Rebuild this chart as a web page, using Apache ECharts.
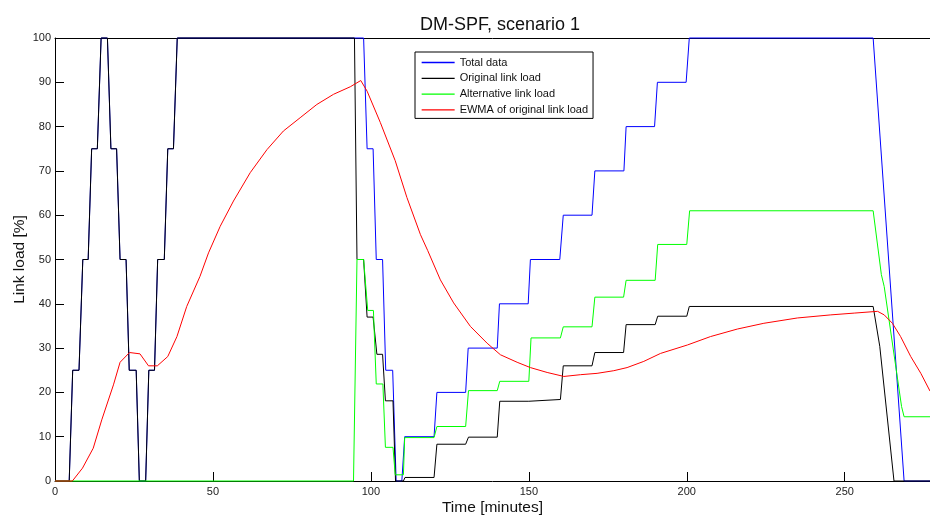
<!DOCTYPE html>
<html>
<head>
<meta charset="utf-8">
<script src="https://cdn.jsdelivr.net/npm/echarts@6/dist/echarts.min.js"></script>
<style>
  html, body { margin: 0; padding: 0; background: #fff; }
  #main { width: 930px; height: 516px; }
</style>
</head>
<body>
<div id="main"></div>
<script>
// time [minutes] / value [%] breakpoints
const totalT = [0,4.5,5.6,7.6,8.8,10.5,11.6,13.4,14.6,16.6,17.7,19.5,20.6,22.5,23.5,25.7,26.7,28.7,29.7,31.5,32.5,34.6,35.7,37.5,38.7,
  97.7,98.8,100.7,101.7,103.7,104.7,106.9,108,109.8,110.7,120,120.9,130,130.8,140,140.7,149.8,150.5,159.8,160.9,
  170,170.9,180.1,180.8,189.8,190.7,199.8,200.8,259,268.8,277];
const totalV = [0,0,25,25,50,50,75,75,100,100,75,75,50,50,25,25,0,0,25,25,50,50,75,75,100,
  100,75,75,50,50,25,25,0,0,10,10,20,20,30,30,40,40,50,50,60,
  60,70,70,80,80,90,90,100,100,0,0];

const origT = [0,4.5,5.6,7.6,8.8,10.5,11.6,13.4,14.6,16.6,17.7,19.5,20.6,22.5,23.5,25.7,26.7,28.7,29.7,31.5,32.5,34.6,35.7,37.5,38.7,
  94.8,95.6,97.7,98.8,100.7,101.9,103.7,104.6,107,107.8,110.3,110.8,120,120.9,130,130.9,140,140.8,150,150.6,
  160,160.9,170,170.9,180,180.8,190,190.8,200,200.8,259,261.1,265.6,277];
const origV = [0,0,25,25,50,50,75,75,100,100,75,75,50,50,25,25,0,0,25,25,50,50,75,75,100,
  100,50,50,37,37,28.6,28.6,18.1,18.1,0,0,0.8,0.8,8.3,8.3,9.9,9.9,18,18,18.4,
  18.4,26,26,29,29,35.3,35.3,37.2,37.2,39.4,39.4,30.4,0,0];

const altT = [0,94.5,95.6,97.7,99,100.8,101.7,103.8,104.6,107,107.7,110.3,110.7,120,120.9,130,130.9,140,140.8,150,
  150.7,160,160.9,170,170.9,180,180.8,190,190.8,200,200.9,259,261.6,262.5,268,268.8,277];
const altV = [0,0,50,50,38.5,38.5,21.9,21.9,7.6,7.6,1.4,1.4,9.8,9.8,12.3,12.3,20.4,20.4,22.5,22.5,
  32.3,32.3,34.8,34.8,41.5,41.5,45.3,45.3,53.4,53.4,61,61,46.6,43.9,16.8,14.5,14.5];

const ewmaT = [0,5.5,8.7,12.1,14.8,18.5,20.6,23.6,26.9,29.6,32.4,35.7,38.6,41.7,45.9,48.6,52.3,56.5,61.8,67.1,
  72.3,77.6,82.9,88.2,93.5,96.8,98.8,103,107.7,111.4,115.7,118,122,126.2,131.5,136.8,141,146.3,150.5,155.8,
  161.1,166.4,171.6,176.9,181.1,186.4,191.7,200.2,207.5,216,224.4,235,245.6,253,260.4,262.5,265.1,267.7,270.9,274.1,277];
const ewmaV = [0,0,2.9,7.4,13.8,21.7,26.8,29.0,28.7,26.0,26.0,28.1,32.6,39.4,46.2,51.5,57.5,63.2,69.6,74.8,
  79.0,82.0,85.0,87.3,89.0,90.4,88.0,80.9,72.3,64,55.6,52,45.4,40.2,34.9,31.1,28.5,26.8,25.6,24.5,
  23.6,24.0,24.3,24.9,25.6,27.0,28.8,30.7,32.6,34.3,35.6,36.8,37.5,37.9,38.3,37.5,35.6,32.6,28.1,24.3,20.3];

const names = ['Total data', 'Original link load', 'Alternative link load', 'EWMA of original link load'];
const colors = ['#0000ff', '#000000', '#00ff00', '#ff0000'];

function pairs(t, v) {
  return t.map((x, i) => [x, v[i]]);
}

const font = 'Liberation Sans, Arial, sans-serif';
const chart = echarts.init(document.getElementById('main'), null, { renderer: 'canvas' });

const option = {
  animation: false,
  color: colors,
  title: {
    text: 'DM-SPF, scenario 1',
    left: 495,
    top: 11,
    textAlign: 'center',
    textStyle: { fontFamily: font, fontSize: 18, fontWeight: 'normal', color: '#111' }
  },
  legend: {
    data: names,
    orient: 'vertical',
    left: 415,
    top: 52,
    padding: [5, 5, 3, 6],
    itemWidth: 33,
    itemHeight: 10,
    itemGap: 4.8,
    borderColor: '#000',
    borderWidth: 1,
    backgroundColor: '#fff',
    itemStyle: { opacity: 0 },
    lineStyle: { width: 1.3 },
    textStyle: { fontFamily: font, fontSize: 11, color: '#111' }
  },
  grid: {
    left: 55,
    right: 0,
    top: 38,
    bottom: 35,
    outerBoundsMode: 'none'
  },
  xAxis: [{
    type: 'value',
    min: 0,
    max: 277,
    interval: 50,
    name: 'Time [minutes]',
    nameLocation: 'middle',
    nameGap: 19,
    nameMoveOverlap: false,
    nameTextStyle: { fontFamily: font, fontSize: 15.5, color: '#111' },
    splitLine: { show: false },
    axisLine: { lineStyle: { color: '#000', width: 1 } },
    axisTick: { inside: true, length: 9, lineStyle: { color: '#000' } },
    axisLabel: {
      fontFamily: font, fontSize: 11, color: '#222', margin: 5,
      showMaxLabel: false,
      formatter: v => (v % 50 === 0 ? String(v) : '')
    }
  }, {
    type: 'value',
    position: 'top',
    min: 0,
    max: 277,
    axisLine: { show: true, lineStyle: { color: '#000', width: 1 } },
    axisTick: { show: false },
    axisLabel: { show: false },
    splitLine: { show: false }
  }],
  yAxis: {
    type: 'value',
    min: 0,
    max: 100,
    interval: 10,
    name: 'Link load [%]',
    nameLocation: 'middle',
    nameGap: 27,
    nameMoveOverlap: false,
    nameTextStyle: { fontFamily: font, fontSize: 15.5, color: '#111' },
    splitLine: { show: false },
    axisLine: { show: true, lineStyle: { color: '#000', width: 1 } },
    axisTick: { show: true, inside: true, length: 9, lineStyle: { color: '#000' } },
    axisLabel: { fontFamily: font, fontSize: 11, color: '#222', margin: 4 }
  },
  series: [
    { name: names[0], data: pairs(totalT, totalV) },
    { name: names[1], data: pairs(origT, origV) },
    { name: names[2], data: pairs(altT, altV) },
    { name: names[3], data: pairs(ewmaT, ewmaV) }
  ].map((s, i) => Object.assign({
    type: 'line',
    symbol: 'none',
    clip: false,
    xAxisIndex: 0,
    lineStyle: { width: 1, color: colors[i] },
    itemStyle: { color: colors[i] }
  }, s))
};

chart.setOption(option);
</script>
</body>
</html>
